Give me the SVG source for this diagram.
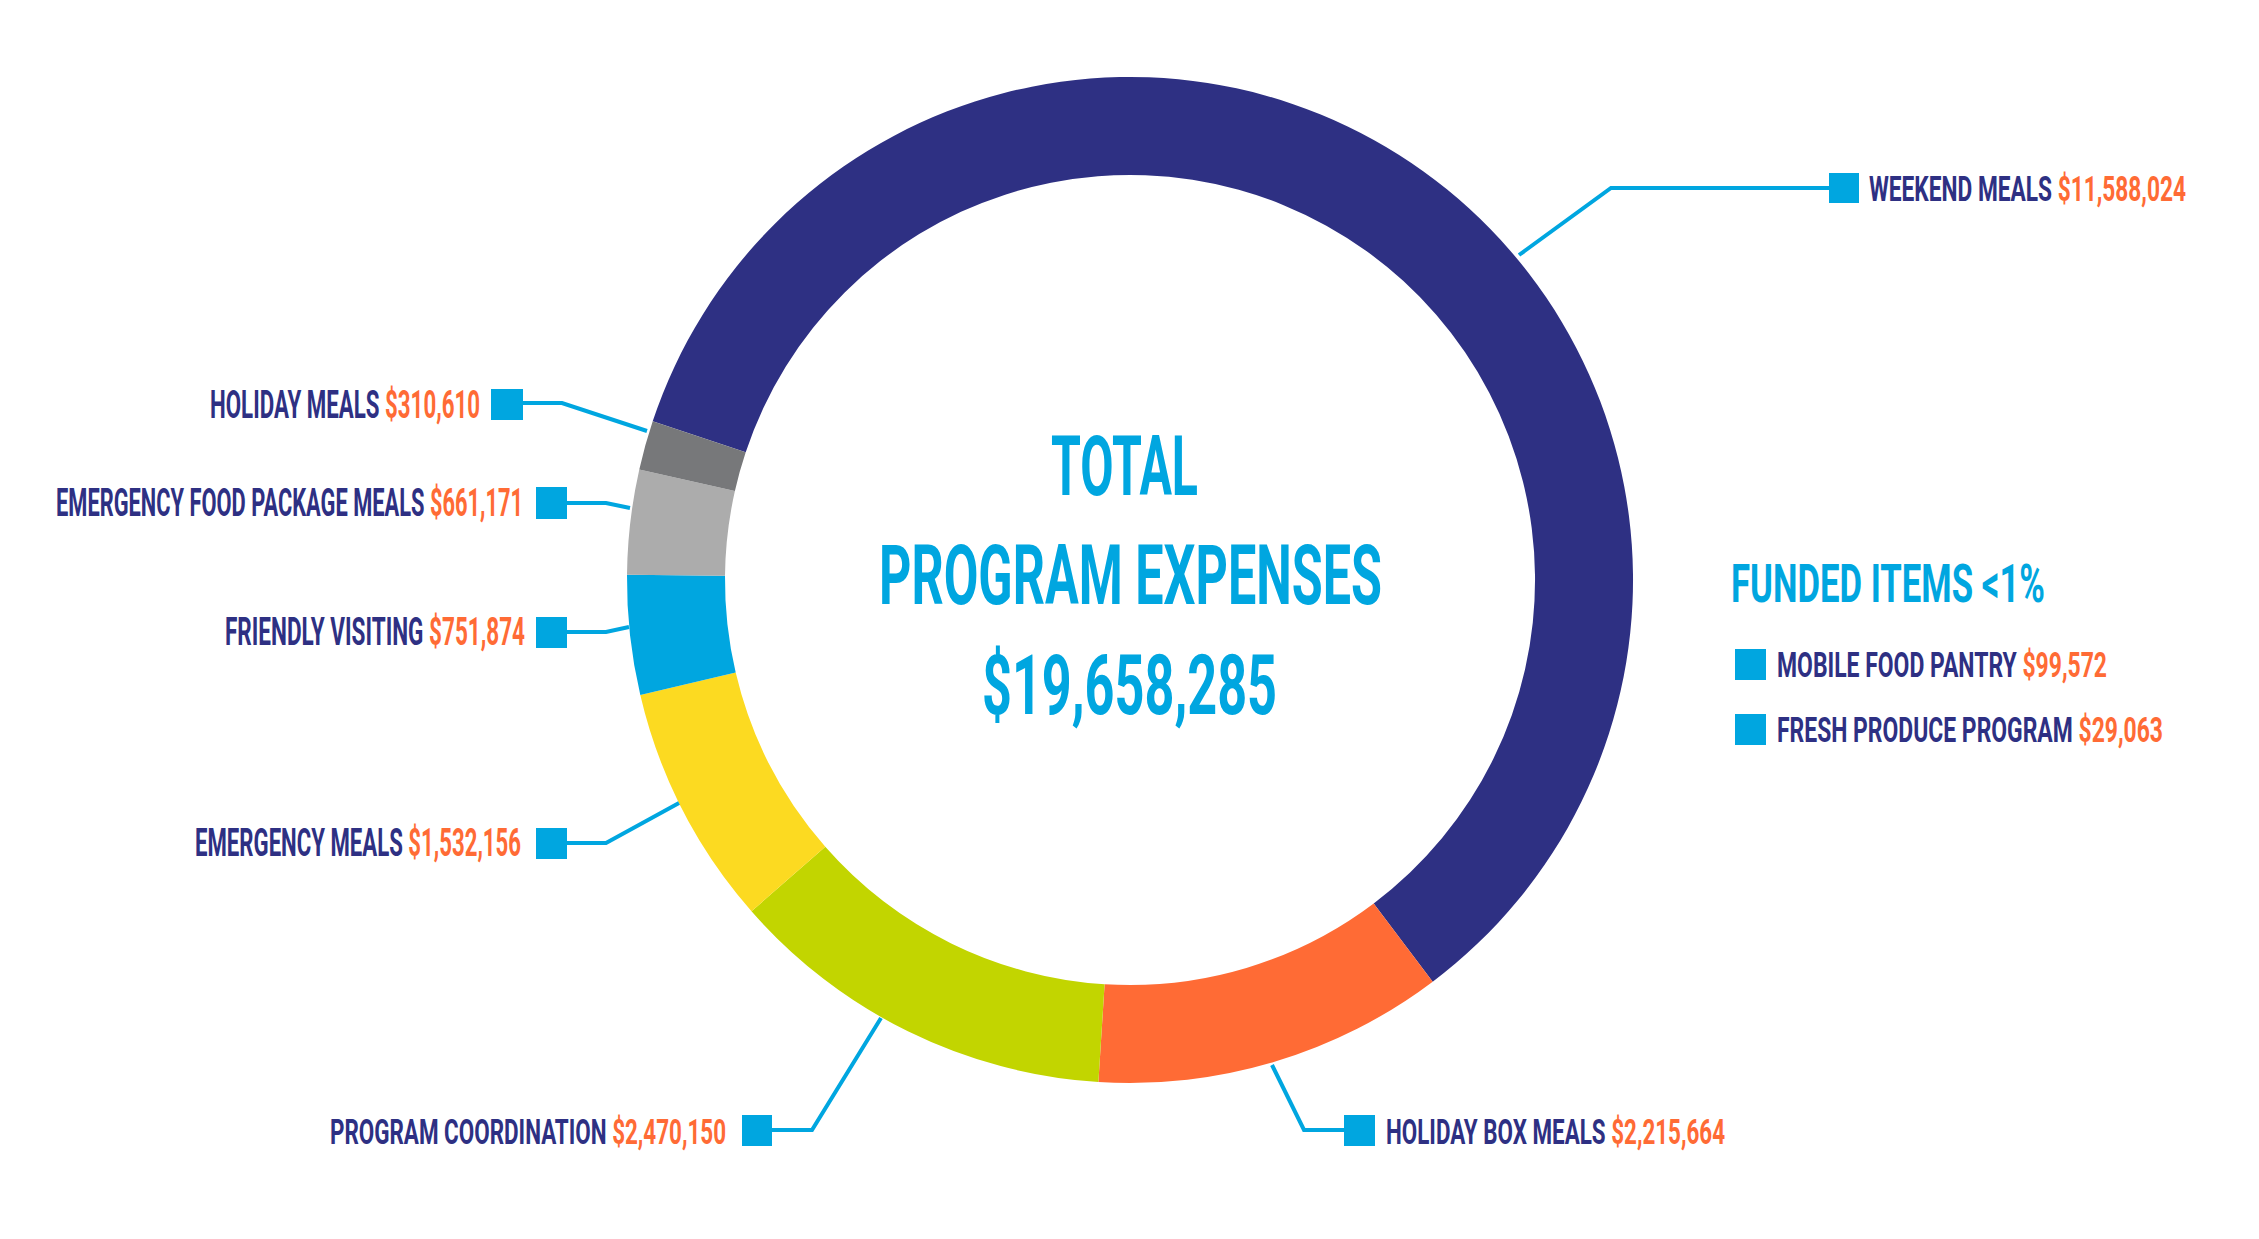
<svg xmlns="http://www.w3.org/2000/svg" width="2259" height="1239" viewBox="0 0 2259 1239">
<style>
text{font-family:"Liberation Sans Narrow","Roboto","Liberation Sans",sans-serif;font-weight:bold}
.n{fill:#2E3083;font-size:38px}
.n2{fill:#2E3083;font-size:35px}
.o{fill:#FF6B35}
.c{fill:#00A6E0;font-size:84px}
.conn{fill:none;stroke:#00A6E0;stroke-width:4}
.sq{fill:#00A6E0}
</style>
<rect width="2259" height="1239" fill="#fff"/>
<g id="donut">
<path id="seg-weekend" fill="#2E3083" d="M652.7,421.3 A503,503 0 1 1 1432.7,981.7 L1373.7,903.4 A405,405 0 1 0 745.7,452.2 Z"/>
<path id="seg-holidaybox" fill="#FF6B35" d="M1432.7,981.7 A503,503 0 0 1 1098.4,1082 L1104.6,984.2 A405,405 0 0 0 1373.7,903.4 Z"/>
<path id="seg-progcoord" fill="#C2D500" d="M1098.4,1082 A503,503 0 0 1 751.5,911.3 L825.3,846.8 A405,405 0 0 0 1104.6,984.2 Z"/>
<path id="seg-emergency" fill="#FCDA21" d="M751.5,911.3 A503,503 0 0 1 640.3,694.9 L735.7,672.5 A405,405 0 0 0 825.3,846.8 Z"/>
<path id="seg-friendly" fill="#00A6E0" d="M640.3,694.9 A503,503 0 0 1 627,574.7 L725,575.7 A405,405 0 0 0 735.7,672.5 Z"/>
<path id="seg-efp" fill="#ACACAC" d="M627,574.7 A503,503 0 0 1 639.3,469.4 L734.9,491 A405,405 0 0 0 725,575.7 Z"/>
<path id="seg-holiday" fill="#77787A" d="M639.3,469.4 A503,503 0 0 1 652.7,421.3 L745.7,452.2 A405,405 0 0 0 734.9,491 Z"/>
</g>
<g id="connectors">
<polyline class="conn" points="1519,255 1611,188 1830,188"/>
<polyline class="conn" points="1272,1065 1304,1130 1345,1130"/>
<polyline class="conn" points="881,1018 812,1130 771,1130"/>
<polyline class="conn" points="679,803 606,843 566,843"/>
<polyline class="conn" points="629,627 606,632 566,632"/>
<polyline class="conn" points="630,508 606,503 566,503"/>
<polyline class="conn" points="647,431 562,403 522,403"/>
</g>
<g id="center">
<text class="c" x="1051" y="495" textLength="147" lengthAdjust="spacingAndGlyphs">TOTAL</text>
<text class="c" x="879" y="604" textLength="503" lengthAdjust="spacingAndGlyphs">PROGRAM EXPENSES</text>
<text class="c" x="982" y="714" textLength="295" lengthAdjust="spacingAndGlyphs">$19,658,285</text>
</g>
<g id="weekend">
<rect class="sq" x="1829" y="173" width="30" height="30"/>
<text class="n2" x="1869" y="201" textLength="317" lengthAdjust="spacingAndGlyphs">WEEKEND MEALS <tspan class="o">$11,588,024</tspan></text>
</g>
<g id="holidaybox">
<rect class="sq" x="1344" y="1115" width="31" height="31"/>
<text class="n2" x="1386" y="1144" textLength="339" lengthAdjust="spacingAndGlyphs">HOLIDAY BOX MEALS <tspan class="o">$2,215,664</tspan></text>
</g>
<g id="progcoord">
<rect class="sq" x="742" y="1115" width="30" height="31"/>
<text class="n2" x="330" y="1144" textLength="396" lengthAdjust="spacingAndGlyphs">PROGRAM COORDINATION <tspan class="o">$2,470,150</tspan></text>
</g>
<g id="emergency">
<rect class="sq" x="536" y="828" width="31" height="31"/>
<text class="n" x="195" y="856" textLength="326" lengthAdjust="spacingAndGlyphs">EMERGENCY MEALS <tspan class="o">$1,532,156</tspan></text>
</g>
<g id="friendly">
<rect class="sq" x="536" y="617" width="31" height="31"/>
<text class="n" x="225" y="645" textLength="300" lengthAdjust="spacingAndGlyphs">FRIENDLY VISITING <tspan class="o">$751,874</tspan></text>
</g>
<g id="efp">
<rect class="sq" x="536" y="487" width="31" height="32"/>
<text class="n" x="56" y="516" textLength="467" lengthAdjust="spacingAndGlyphs">EMERGENCY FOOD PACKAGE MEALS <tspan class="o">$661,171</tspan></text>
</g>
<g id="holiday">
<rect class="sq" x="491" y="389" width="32" height="31"/>
<text class="n" x="210" y="418" textLength="270" lengthAdjust="spacingAndGlyphs">HOLIDAY MEALS <tspan class="o">$310,610</tspan></text>
</g>
<g id="funded">
<text x="1731" y="602" fill="#00A6E0" font-size="54" textLength="314" lengthAdjust="spacingAndGlyphs">FUNDED ITEMS &lt;1%</text>
</g>
<g id="mobile">
<rect class="sq" x="1735" y="649" width="31" height="31"/>
<text class="n2" x="1777" y="677" textLength="330" lengthAdjust="spacingAndGlyphs">MOBILE FOOD PANTRY <tspan class="o">$99,572</tspan></text>
</g>
<g id="fresh">
<rect class="sq" x="1735" y="714" width="31" height="31"/>
<text class="n2" x="1777" y="742" textLength="386" lengthAdjust="spacingAndGlyphs">FRESH PRODUCE PROGRAM <tspan class="o">$29,063</tspan></text>
</g>
</svg>
